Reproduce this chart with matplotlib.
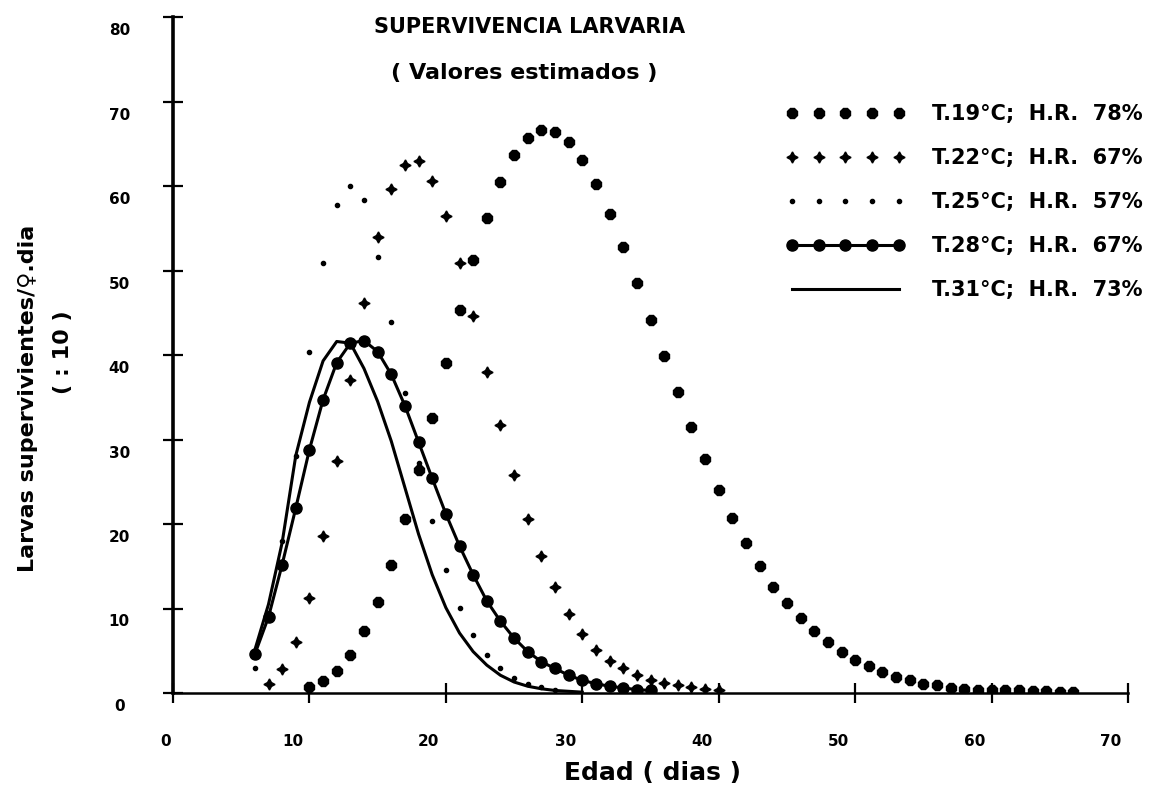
import numpy as np
import matplotlib
matplotlib.use("Agg")
import matplotlib.pyplot as plt
from matplotlib.transforms import ScaledTranslation

plt.rcParams['font.family'] = ['DejaVu Sans']
plt.rcParams['font.weight'] = 'bold'

# edad (dias) y larvas supervivientes / hembra . dia (: 10)
dias_19 = list(range(10, 67))
t19 = [0.7, 1.4, 2.6, 4.5, 7.3, 10.8, 15.2, 20.6, 26.4, 32.6,
       39.0, 45.3, 51.2, 56.2, 60.5, 63.7, 65.7, 66.6, 66.4, 65.2,
       63.1, 60.2, 56.7, 52.8, 48.5, 44.1, 39.9, 35.6, 31.5, 27.7,
       24.0, 20.7, 17.8, 15.0, 12.6, 10.6, 8.9, 7.3, 6.0, 4.9,
       3.9, 3.2, 2.5, 1.9, 1.5, 1.1, 0.9, 0.6, 0.5, 0.4,
       0.4, 0.3, 0.3, 0.2, 0.2, 0.15, 0.1]

dias_22 = list(range(7, 41))
t22 = [1.1, 2.8, 6.0, 11.3, 18.6, 27.4, 37.0, 46.2, 54.0, 59.6,
       62.5, 62.9, 60.6, 56.5, 50.9, 44.6, 38.0, 31.7, 25.8, 20.6,
       16.2, 12.5, 9.4, 7.0, 5.1, 3.8, 2.9, 2.1, 1.5, 1.2,
       0.9, 0.7, 0.5, 0.4]

dias_25 = list(range(6, 29))
t25 = [2.9, 9.5, 18.0, 28.1, 40.4, 50.9, 57.7, 60.0, 58.3, 51.6,
       43.9, 35.5, 27.2, 20.3, 14.5, 10.1, 6.9, 4.5, 2.9, 1.8,
       1.1, 0.7, 0.4]

dias_28 = list(range(6, 36))
t28 = [4.6, 9.0, 15.2, 21.9, 28.8, 34.7, 39.1, 41.4, 41.7, 40.4,
       37.7, 34.0, 29.7, 25.4, 21.2, 17.4, 14.0, 10.9, 8.5, 6.5,
       4.9, 3.7, 2.9, 2.1, 1.5, 1.1, 0.8, 0.6, 0.4, 0.3]

dias_31 = list(range(6, 31))
t31 = [5.1, 10.5, 17.8, 28.1, 34.4, 39.3, 41.6, 41.4, 38.4, 34.5,
       29.8, 24.3, 18.8, 14.0, 10.1, 7.1, 4.9, 3.3, 2.1, 1.3,
       0.8, 0.5, 0.3, 0.2, 0.1]

labels = ['T.19°C;  H.R.  78%', 'T.22°C;  H.R.  67%', 'T.25°C;  H.R.  57%',
          'T.28°C;  H.R.  67%', 'T.31°C;  H.R.  73%']

fig = plt.figure(figsize=(11.59, 7.98), dpi=100)
ax = fig.add_axes([173/1159, 1 - 693/798, (1128 - 173)/1159, (693 - 17)/798])

ax.plot(dias_19, t19, ls='none', marker='8', ms=7.5, color='black', label=labels[0], zorder=3)
ax.plot(dias_22, t22, ls='none', marker=(4, 1, 0), ms=8, color='black', label=labels[1], zorder=3)
ax.plot(dias_25, t25, ls='none', marker='o', ms=3, color='black', label=labels[2], zorder=3)
ax.plot(dias_28, t28, ls='-', lw=2.2, marker='o', ms=8, color='black', label=labels[3], zorder=3)
ax.plot(dias_31, t31, ls='-', lw=2.2, color='black', label=labels[4], zorder=3)

ax.set_xlim(0, 70)
ax.set_ylim(0, 80)
ax.set_xticks(np.arange(0, 71, 10))
ax.set_yticks(np.arange(0, 81, 10))
for s in ['top', 'right']:
    ax.spines[s].set_visible(False)
ax.spines['left'].set_linewidth(2.6)
ax.spines['bottom'].set_linewidth(1.8)
ax.tick_params(axis='both', direction='inout', length=15, width=1.6, labelsize=11)
ax.tick_params(axis='x', pad=22)
ax.tick_params(axis='y', pad=34)

# etiquetas desplazadas como en el original
for i, lab in enumerate(ax.get_xticklabels()):
    dx = -0.07 if i == 0 else -0.17
    lab.set_transform(lab.get_transform() + ScaledTranslation(dx, 0, fig.dpi_scale_trans))
for lab in ax.get_yticklabels():
    lab.set_horizontalalignment('center')
    lab.set_transform(lab.get_transform() + ScaledTranslation(0.04, -0.12, fig.dpi_scale_trans))

fig.text(530/1159, 1 - 27/798, 'SUPERVIVENCIA LARVARIA', ha='center', va='center', fontsize=15)
fig.text(524/1159, 1 - 73/798, '( Valores estimados )', ha='center', va='center', fontsize=16)
fig.text(652/1159, 1 - 773/798, 'Edad ( dias )', ha='center', va='center', fontsize=18)
fig.text(28/1159, 1 - 398/798, 'Larvas supervivientes/♀.dia', rotation=90,
         ha='center', va='center', fontsize=16)
fig.text(63/1159, 1 - 352/798, '( : 10 )', rotation=90, ha='center', va='center', fontsize=16)

ax.legend(loc='upper left', bbox_to_anchor=(786/1159, 1 - 104/798), bbox_transform=fig.transFigure,
          frameon=False, numpoints=5, handlelength=5.7, handletextpad=1.3,
          labelspacing=1.15, borderpad=0, borderaxespad=0, fontsize=15)

fig.savefig('out.png', dpi=100)
